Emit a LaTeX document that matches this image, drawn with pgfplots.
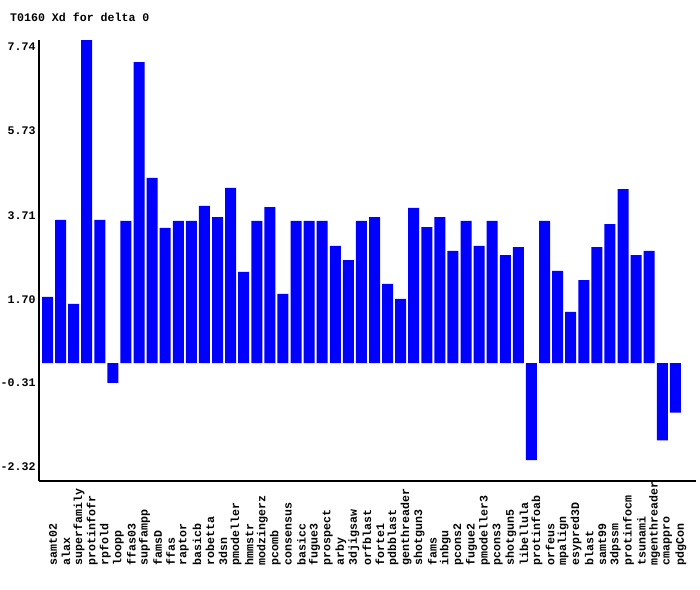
\documentclass[border=0pt]{standalone}
\usepackage{fontspec}
\setmainfont{Liberation Mono}
\usepackage{pgfplots}
\pgfplotsset{compat=1.18}
\usetikzlibrary{calc}
\begin{document}
\begin{tikzpicture}
\begin{axis}[
 name=ax,
 scale only axis,
 width=657bp, height=441bp,
 xmin=-0.65, xmax=49.58,
 ymin=-2.82, ymax=7.74,
 axis x line=bottom, axis y line=left,
 axis line style={-, line width=1.6bp, black},
 major tick length=0pt,
 ybar, bar width=11bp, bar shift=0pt,
 xtick={0,...,48},
 xticklabels={samt02,alax,superfamily,protinfofr,rpfold,loopp,ffas03,supfampp,famsD,ffas,raptor,basicb,robetta,3dsn,pmodeller,hmmstr,modzingerz,pcomb,consensus,basicc,fugue3,prospect,arby,3djigsaw,orfblast,forte1,pdbblast,genthreader,shotgun3,fams,inbgu,pcons2,fugue2,pmodeller3,pcons3,shotgun5,libellula,protinfoab,orfeus,mpalign,esypred3D,blast,samt99,3dpssm,protinfocm,tsunami,mgenthreader,cmappro,pdgCon},
 ytick={-2.32,-0.31,1.70,3.71,5.73,7.74},
 yticklabels={-2.32,-0.31,1.70,3.71,5.73,7.74},
 tick label style={font=\fontsize{11.6bp}{13bp}\selectfont\bfseries},
 yticklabel style={yshift=-7bp},
 xticklabel style={xshift=5.5bp, yshift=-88bp, rotate=90, anchor=west},
 clip=false,
]
\addplot[fill=blue, draw=none] coordinates {
(0,1.59) (1,3.43) (2,1.42) (3,7.74) (4,3.43) (5,-0.47) (6,3.41) (7,7.21) (8,4.44) (9,3.24)
(10,3.41) (11,3.41) (12,3.77) (13,3.50) (14,4.20) (15,2.19) (16,3.41) (17,3.74) (18,1.66) (19,3.41)
(20,3.41) (21,3.41) (22,2.81) (23,2.47) (24,3.41) (25,3.50) (26,1.90) (27,1.54) (28,3.72) (29,3.26)
(30,3.50) (31,2.69) (32,3.41) (33,2.81) (34,3.41) (35,2.59) (36,2.78) (37,-2.32) (38,3.41) (39,2.21)
(40,1.23) (41,1.99) (42,2.78) (43,3.33) (44,4.17) (45,2.59) (46,2.69) (47,-1.85) (48,-1.18)
};
\end{axis}
\node[anchor=west, inner sep=0pt, font=\fontsize{11.6bp}{13bp}\selectfont\bfseries] at ($(ax.south west)+(-29bp,464bp)$) {T0160 Xd for delta 0};
\pgfresetboundingbox
\path ($(ax.south west)+(-39bp,-109bp)$) rectangle ($(ax.south west)+(661bp,481bp)$);
\end{tikzpicture}
\end{document}
